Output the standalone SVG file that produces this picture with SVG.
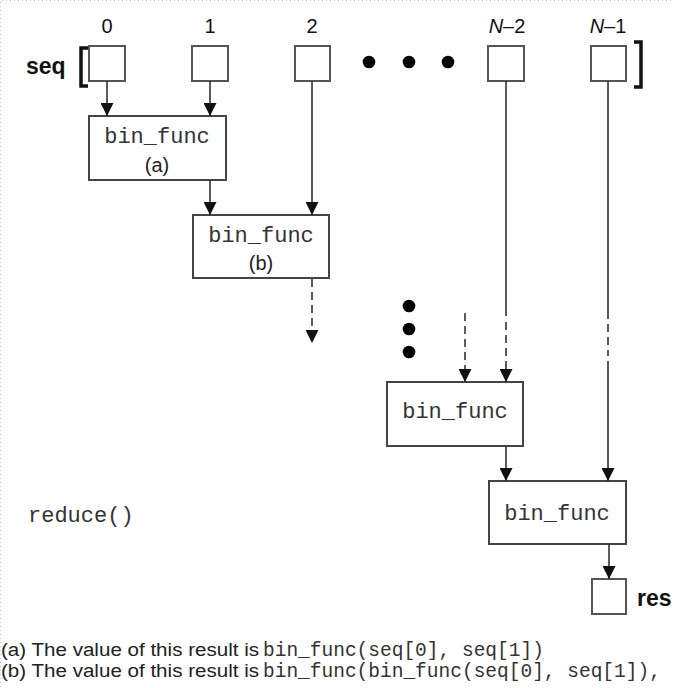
<svg xmlns="http://www.w3.org/2000/svg" width="674" height="688" viewBox="0 0 674 688">
<style>
.bg{fill:#ffffff}
.frame{stroke:#c8c8c8;stroke-width:1;stroke-dasharray:1 3;fill:none}
.cell{fill:#ffffff;stroke:#555;stroke-width:2}
.box{fill:#ffffff;stroke:#444;stroke-width:2}
.ln{stroke:#333;stroke-width:1.6;fill:none}
.dash{stroke:#333;stroke-width:1.6;fill:none;stroke-dasharray:8 5}
.idx{font-family:"Liberation Sans",Arial,sans-serif;font-size:20px;fill:#111;text-anchor:middle}
.lbl{font-family:"Liberation Sans",Arial,sans-serif;font-size:23px;font-weight:bold;fill:#111}
.mono{font-family:"Liberation Mono","Courier New",monospace;font-size:22px;fill:#333;text-anchor:middle}
.sub{font-family:"Liberation Sans",Arial,sans-serif;font-size:20px;fill:#222;text-anchor:middle}
.note{font-family:"Liberation Sans",Arial,sans-serif;font-size:18px;fill:#222}
.nmono{font-family:"Liberation Mono","Courier New",monospace;font-size:19.5px;fill:#333}
.dot{fill:#000}
.br{stroke:#111;stroke-width:3.5;fill:none}
</style>
<defs>
<marker id="ah" markerWidth="13" markerHeight="13" refX="13" refY="6.5" orient="auto" markerUnits="userSpaceOnUse">
<path d="M0,0 L13,6.5 L0,13 z" fill="#111"/>
</marker>
</defs>
<rect class="bg" x="0" y="0" width="674" height="688"/>
<path class="frame" d="M0.5,687 L0.5,0.5 L674,0.5"/>

<g id="seq-label">
<text class="lbl" x="26" y="74">seq</text>
<path class="br" d="M88,48 L81,48 L81,86 L88,86"/>
<path class="br" d="M634,42 L641,42 L641,87 L634,87"/>
</g>

<g id="cell0"><rect class="cell" x="89" y="46" width="36" height="35"/><text class="idx" x="107" y="33">0</text></g>
<g id="cell1"><rect class="cell" x="192" y="46" width="36" height="35"/><text class="idx" x="210" y="33">1</text></g>
<g id="cell2"><rect class="cell" x="295" y="46" width="35" height="35"/><text class="idx" x="312" y="33">2</text></g>
<g id="hdots"><circle class="dot" cx="369" cy="62" r="6.3"/><circle class="dot" cx="409" cy="62" r="6.3"/><circle class="dot" cx="448" cy="62" r="6.3"/></g>
<g id="cellN2"><rect class="cell" x="488" y="46" width="36" height="35"/><text class="idx" x="507" y="33"><tspan font-style="italic">N</tspan>–2</text></g>
<g id="cellN1"><rect class="cell" x="591" y="46" width="35" height="35"/><text class="idx" x="608" y="33"><tspan font-style="italic">N</tspan>–1</text></g>

<g id="func-a"><rect class="box" x="89" y="116" width="137" height="64"/><text class="mono" x="157" y="143">bin_func</text><text class="sub" x="157" y="172">(a)</text></g>
<g id="func-b"><rect class="box" x="193" y="215" width="136" height="63"/><text class="mono" x="261" y="242">bin_func</text><text class="sub" x="261" y="270">(b)</text></g>
<g id="vdots"><circle class="dot" cx="409" cy="306" r="6.3"/><circle class="dot" cx="409" cy="329" r="6.3"/><circle class="dot" cx="409" cy="352" r="6.3"/></g>
<g id="func-c"><rect class="box" x="387" y="382" width="136" height="64"/><text class="mono" x="455" y="418">bin_func</text></g>
<g id="func-d"><rect class="box" x="489" y="481" width="137" height="63"/><text class="mono" x="557" y="520">bin_func</text></g>
<g id="res"><rect class="cell" x="592" y="579" width="34" height="35"/><text class="lbl" x="637" y="606">res</text></g>

<g id="connectors">
<line class="ln" x1="107" y1="81" x2="107" y2="116" marker-end="url(#ah)"/>
<line class="ln" x1="210" y1="81" x2="210" y2="116" marker-end="url(#ah)"/>
<line class="ln" x1="210" y1="180" x2="210" y2="215" marker-end="url(#ah)"/>
<line class="ln" x1="312" y1="81" x2="312" y2="215" marker-end="url(#ah)"/>
<line class="dash" x1="312" y1="279" x2="312" y2="343" marker-end="url(#ah)"/>
<line class="dash" x1="465" y1="313" x2="465" y2="382" marker-end="url(#ah)"/>
<line class="ln" x1="506" y1="81" x2="506" y2="316"/>
<line class="dash" x1="506" y1="322" x2="506" y2="382" marker-end="url(#ah)"/>
<line class="ln" x1="608" y1="81" x2="608" y2="319"/>
<line class="dash" x1="608" y1="324" x2="608" y2="356"/>
<line class="ln" x1="608" y1="361" x2="608" y2="481" marker-end="url(#ah)"/>
<line class="ln" x1="506" y1="446" x2="506" y2="481" marker-end="url(#ah)"/>
<line class="ln" x1="609" y1="544" x2="609" y2="579" marker-end="url(#ah)"/>
</g>

<g id="caption">
<text class="mono" x="28" y="522" style="text-anchor:start">reduce()</text>
<text class="note" x="1" y="656" textLength="258" lengthAdjust="spacingAndGlyphs">(a) The value of this result is</text>
<text class="nmono" x="263" y="656">bin_func(seq[0], seq[1])</text>
<text class="note" x="1" y="677" textLength="258" lengthAdjust="spacingAndGlyphs">(b) The value of this result is</text>
<text class="nmono" x="263" y="677">bin_func(bin_func(seq[0], seq[1]),</text>
</g>
</svg>
